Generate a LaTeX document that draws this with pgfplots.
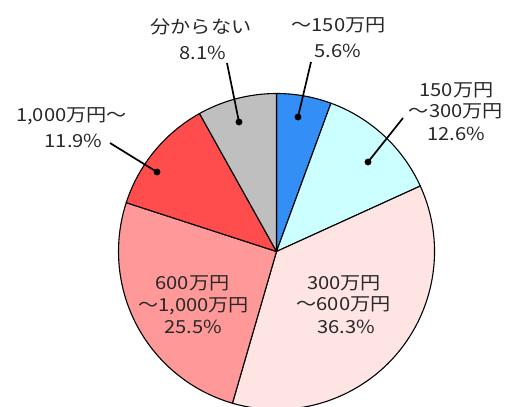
\documentclass[border=0pt]{standalone}
\usepackage{pgfplots}
\pgfplotsset{compat=1.18}
\usepackage{pgfplotstable}
\usepackage{fontspec}
\setmainfont{Noto Sans CJK JP}[FakeStretch=1.12]

\definecolor{cBlue}{RGB}{51,143,245}
\definecolor{cCyan}{RGB}{204,255,255}
\definecolor{cLPink}{RGB}{255,228,228}
\definecolor{cPink}{RGB}{255,153,153}
\definecolor{cRed}{RGB}{255,77,77}
\definecolor{cGray}{RGB}{191,191,191}
\definecolor{txt}{RGB}{40,40,40}

\tikzset{lbl/.style={inner sep=0pt, text=txt, font=\fontsize{18}{20}\selectfont, anchor=base}}

\pgfplotstableread{
value color
5.6 cBlue
12.6 cCyan
36.3 cLPink
25.5 cPink
11.9 cRed
8.1 cGray
}\piedata

\def\cx{276.5}
\def\cy{155.5}
\def\R{158}

\begin{document}
\begin{tikzpicture}
\useasboundingbox (0,0) rectangle (512pt,407pt);
\clip (0,0) rectangle (512pt,407pt);
\begin{axis}[
  at={(0,0)}, anchor=south west,
  scale only axis, width=512pt, height=407pt,
  xmin=0, xmax=512, ymin=0, ymax=407,
  enlargelimits=false, hide axis, clip=false,
]
\def\pieCum{0}
\pgfplotsforeachungrouped \i in {0,...,5}{%
  \pgfplotstablegetelem{\i}{value}\of\piedata \let\pieV=\pgfplotsretval
  \pgfplotstablegetelem{\i}{color}\of\piedata \let\pieC=\pgfplotsretval
  \pgfmathsetmacro\pieA{90-3.6*\pieCum}
  \pgfmathsetmacro\pieCum{\pieCum+\pieV}
  \pgfmathsetmacro\pieB{90-3.6*\pieCum}
  \pgfmathsetmacro\pieX{\cx+\R*cos(\pieA)}
  \pgfmathsetmacro\pieY{\cy+\R*sin(\pieA)}
  \edef\temp{\noexpand\filldraw[fill=\pieC, draw=black, line width=1.1pt, line join=round] (axis cs:\cx,\cy) -- (axis cs:\pieX,\pieY) arc[start angle=\pieA, end angle=\pieB, radius=\R pt] -- cycle;}%
  \temp
}

% leader lines
\addplot[black, line width=1.7pt, no marks] coordinates {(227,344) (239,285)};
\addplot[black, line width=1.7pt, no marks] coordinates {(110,264) (157,235)};
\addplot[black, line width=1.7pt, no marks] coordinates {(311,345) (298,290)};
\addplot[black, line width=1.7pt, no marks] coordinates {(403,289) (368,245)};
\addplot[only marks, mark=*, mark size=3.2pt, black] coordinates {(239,285) (157,235) (298,290) (368,245)};

% labels
\node[lbl] at (axis cs:201,373) {分からない};
\node[lbl] at (axis cs:203,347) {8.1\%};
\node[lbl] at (axis cs:71.5,285) {1,000万円～};
\node[lbl] at (axis cs:73.5,259) {11.9\%};
\node[lbl] at (axis cs:338.5,375) {～150万円};
\node[lbl] at (axis cs:338,349.5) {5.6\%};
\node[lbl] at (axis cs:456.5,310) {150万円};
\node[lbl] at (axis cs:456,289) {～300万円};
\node[lbl] at (axis cs:456,266) {12.6\%};
\node[lbl] at (axis cs:344,117.5) {300万円};
\node[lbl] at (axis cs:343.5,96) {～600万円};
\node[lbl] at (axis cs:346,73.5) {36.3\%};
\node[lbl] at (axis cs:192.5,117) {600万円};
\node[lbl] at (axis cs:193.5,95.5) {～1,000万円};
\node[lbl] at (axis cs:193,73) {25.5\%};
\end{axis}
\end{tikzpicture}
\end{document}
